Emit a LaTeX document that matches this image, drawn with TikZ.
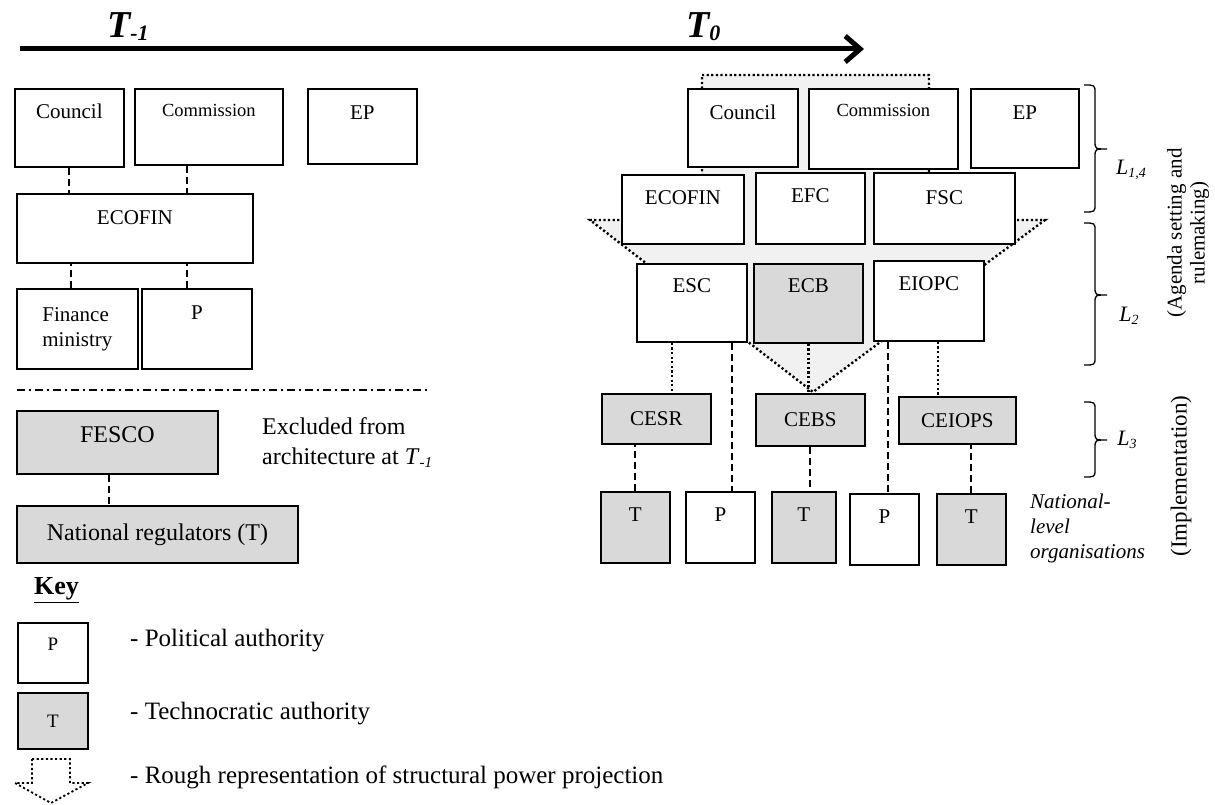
\documentclass[tikz,border=0pt]{standalone}
\usepackage{fontspec}
\setmainfont{Liberation Serif}
\usepackage{tikz}
\usetikzlibrary{positioning,calc,arrows.meta}

\definecolor{techgray}{RGB}{217,217,217}
\definecolor{projgray}{RGB}{241,241,241}

\newcommand{\fs}[2]{\fontsize{#1}{#2}\selectfont}
% level brace: x, top, bottom, tip
\newcommand{\levelbrace}[4]{\draw[line width=1.3pt] (#1,#2) .. controls ({#1+11},#2) .. ({#1+11},{#2+8}) -- ({#1+11},{#4-8}) .. controls ({#1+11},#4) .. ({#1+23},#4) .. controls ({#1+11},#4) .. ({#1+11},{#4+8}) -- ({#1+11},{#3-8}) .. controls ({#1+11},#3) .. (#1,#3);}

\tikzset{
  box/.style={draw, line width=1.8pt, fill=white, inner sep=0pt, anchor=north west, font=\fs{21}{25}},
  techbox/.style={box, fill=techgray},
  dashline/.style={line width=2pt, dash pattern=on 7pt off 4pt},
  dotline/.style={line width=2.4pt, dash pattern=on 2.2pt off 2.4pt},
  dashdotline/.style={line width=1.8pt, dash pattern=on 8pt off 4pt on 2pt off 4pt},
}

\begin{document}
\begin{tikzpicture}[x=1pt, y=-1pt]
    \useasboundingbox (0,0) rectangle (1215,805);

    % Time line
    \coordinate (tstart) at (20,49);
    \coordinate (tend) at (864,49);
    \draw[line width=5pt, -{Straight Barb[length=15pt, width=26pt]}] (tstart) -- (tend);
    \node[anchor=base west, inner sep=0pt, font=\fs{38}{40}\bfseries\itshape] (tminus) at (107,38) {T\raisebox{-3pt}{\fs{22}{24}-1}};
    \node[anchor=base west, inner sep=0pt, font=\fs{38}{40}\bfseries\itshape] (tzero) at (686,38) {T\raisebox{-3pt}{\fs{22}{24}0}};

    % Architecture at T-1
    \node[box, minimum width=109pt, text height=30pt, text depth=48pt] (councilL) at (14,88) {Council};
    \node[box, minimum width=148pt, text height=28pt, text depth=48pt, font=\fs{18.5}{22}] (commL) at (134,88) {Commission};
    \node[box, minimum width=109pt, text height=31pt, text depth=44pt] (epL) at (307,88) {EP};
    \node[box, minimum width=236pt, text height=31pt, text depth=38pt] (ecofinL) at (16,193) {ECOFIN};
    \node[box, minimum width=121pt, minimum height=80pt, align=left] (finminL) at (16,288) {Finance\\ministry};
    \node[box, minimum width=110pt, text height=31pt, text depth=49pt] (polL) at (141,288) {P};

    \draw[dashline] (councilL.south) -- (councilL.south |- ecofinL.north);
    \draw[dashline] ([xshift=-22pt]commL.south) -- ([xshift=-22pt]commL.south |- ecofinL.north);
    \draw[dashline] ([xshift=-6pt]finminL.north) -- ([xshift=-6pt]finminL.north |- ecofinL.south);
    \draw[dashline] ([xshift=-10pt]polL.north) -- ([xshift=-10pt]polL.north |- ecofinL.south);

    % Excluded part
    \coordinate (sepL) at (17,390);
    \coordinate (sepR) at (428,390);
    \draw[dashdotline] (sepL) -- (sepR);
    \node[techbox, minimum width=201pt, text height=32pt, text depth=31pt, font=\fs{24}{28}] (fesco) at (16,410) {FESCO};
    \node[techbox, minimum width=281pt, minimum height=57pt, font=\fs{24}{28}] (natreg) at (16,505) {National regulators (T)};
    \draw[dashline] ([xshift=-8pt]fesco.south) -- ([xshift=-8pt]fesco.south |- natreg.north);
    \node[anchor=north west, align=left, inner sep=0pt, font=\fs{24}{30}] (excluded) at (262,417) {Excluded from\\architecture at \textit{T}\raisebox{-3pt}{\fs{15}{16}\textit{-1}}};

    % Key
    \node[anchor=west, inner sep=0pt, font=\fs{26}{30}\bfseries] (key) at (34,590) {\underline{Key}};
    \node[box, minimum width=70pt, text height=28pt, text depth=32pt, font=\fs{19}{22}] (keyP) at (17,622) {P};
    \node[techbox, minimum width=70pt, minimum height=56pt, font=\fs{19}{22}] (keyT) at (17,692) {T};
    \draw[dotline, line width=1.8pt] (32,759) -- (70,759) -- (70,783) -- (88,783) -- (51,803) -- (15,783) -- (32,783) -- cycle;
    \node[anchor=west, inner sep=0pt, font=\fs{25}{30}] (keyPtext) at (130,641) {- Political authority};
    \node[anchor=west, inner sep=0pt, font=\fs{25}{30}] (keyTtext) at (130,714) {- Technocratic authority};
    \node[anchor=west, inner sep=0pt, font=\fs{25}{30}] (keyArrtext) at (130,777) {- Rough representation of structural power projection};

    % Structural power projection at T0
    \filldraw[dotline, fill=projgray] (702,75) -- (929,75) -- (929,220) -- (1045,220) -- (813,392) -- (590,220) -- (702,220) -- cycle;

    % Architecture at T0
    \node[box, minimum width=110pt, text height=31pt, text depth=47pt] (councilR) at (687,88) {Council};
    \node[box, minimum width=149pt, text height=28pt, text depth=52pt, font=\fs{18.5}{22}] (commR) at (808,88) {Commission};
    \node[box, minimum width=108pt, text height=31pt, text depth=48pt] (epR) at (970,88) {EP};
    \node[box, minimum width=122pt, text height=30pt, text depth=39pt] (ecofinR) at (621,174) {ECOFIN};
    \node[box, minimum width=109pt, text height=30pt, text depth=41pt] (efc) at (755,172) {EFC};
    \node[box, minimum width=141pt, text height=32pt, text depth=39pt] (fsc) at (873,172) {FSC};
    \node[box, minimum width=110pt, text height=29pt, text depth=49pt] (esc) at (636,263) {ESC};
    \node[techbox, minimum width=109pt, text height=29pt, text depth=50pt] (ecb) at (753,263) {ECB};
    \node[box, minimum width=110pt, text height=30pt, text depth=50pt] (eiopc) at (873,260) {EIOPC};
    \node[techbox, minimum width=109pt, minimum height=50pt] (cesr) at (601,393) {CESR};
    \node[techbox, minimum width=109pt, minimum height=52pt] (cebs) at (755,393) {CEBS};
    \node[techbox, minimum width=117pt, minimum height=47pt] (ceiops) at (898,396) {CEIOPS};

    % National-level organisations
    \foreach \nm/\x/\y/\w/\lbl/\col in {nat1/600/491/69/T/techgray, nat2/685/491/69/P/white, nat3/771/491/64/T/techgray, nat4/849/493/69/P/white, nat5/936/493/69/T/techgray}
        \node[box, fill=\col, minimum width=\w pt, text height=30pt, text depth=41pt] (\nm) at (\x,\y) {\lbl};

    \draw[dotline] ([xshift=-20pt]esc.south) -- ([xshift=-20pt]esc.south |- cesr.north);
    \draw[dashline] ([xshift=40pt]esc.south) -- ([xshift=40pt]esc.south |- nat2.north);
    \draw[dotline] (ecb.south) -- (ecb.south |- cebs.north);
    \draw[dashline] ([xshift=-41pt]eiopc.south) -- ([xshift=-41pt]eiopc.south |- nat4.north);
    \draw[dotline] ([xshift=9pt]eiopc.south) -- ([xshift=9pt]eiopc.south |- ceiops.north);
    \draw[dashline] (nat1.north) -- (nat1.north |- cesr.south);
    \draw[dashline] (cebs.south) -- (cebs.south |- nat3.north);
    \draw[dashline] (nat5.north) -- (nat5.north |- ceiops.south);

    % Levels
    \levelbrace{1084}{85}{212}{149}
    \levelbrace{1084}{223}{365}{295}
    \levelbrace{1084}{402}{477}{440}
    \node[font=\fs{22}{24}\itshape] (l14) at (1131,170) {L\raisebox{-3pt}{\fs{14}{16}1,4}};
    \node[font=\fs{22}{24}\itshape] (l2) at (1129,316) {L\raisebox{-3pt}{\fs{14}{16}2}};
    \node[font=\fs{22}{24}\itshape] (l3) at (1127,440) {L\raisebox{-3pt}{\fs{14}{16}3}};
    \node[rotate=90, align=center, font=\fs{21}{23}] (agenda) at (1188,233) {(Agenda setting and\\rulemaking)};
    \node[rotate=90, font=\fs{23}{25}] (impl) at (1181,476) {(Implementation)};
    \node[anchor=north west, align=left, inner sep=0pt, font=\fs{21}{25}\itshape] (natlevel) at (1030,494) {National-\\level\\organisations};
\end{tikzpicture}
\end{document}
